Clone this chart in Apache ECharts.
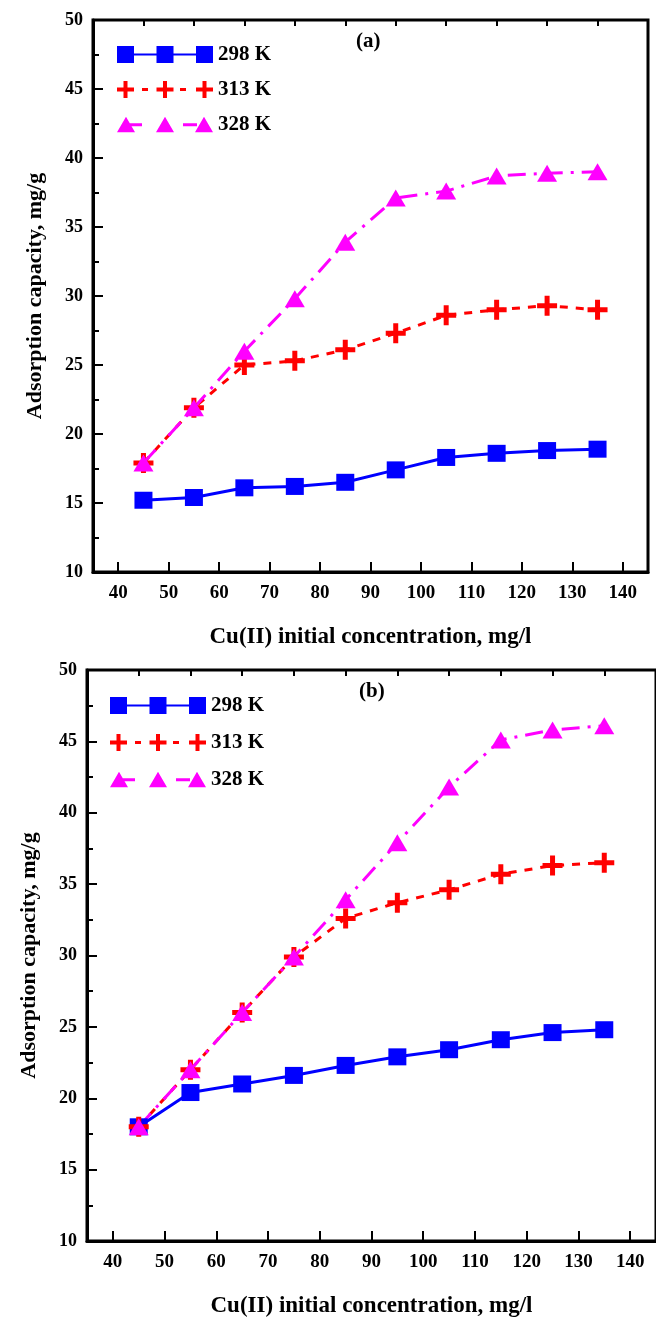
<!DOCTYPE html>
<html>
<head>
<meta charset="utf-8">
<script src="https://cdn.jsdelivr.net/npm/echarts@6/dist/echarts.min.js"></script>
<style>
html, body { margin: 0; padding: 0; background: #fff; }
#chart { width: 656px; height: 1319px; }
</style>
</head>
<body>
<div id="chart"></div>
<script>
// data
var concentration = [45, 55, 65, 75, 85, 95, 105, 115, 125, 135];
var xTickLabels = [40, 50, 60, 70, 80, 90, 100, 110, 120, 130, 140];
var xMinorTicks = [45, 55, 65, 75, 85, 95, 105, 115, 125, 135];
var seriesNames = ['298 K', '313 K', '328 K'];

// panel (a)
var a298 = [15.2, 15.4, 16.1, 16.2, 16.5, 17.4, 18.3, 18.6, 18.8, 18.9];
var a313 = [17.9, 21.9, 25.0, 25.3, 26.1, 27.3, 28.6, 29.0, 29.3, 29.0];
var a328 = [17.9, 21.9, 26.0, 29.8, 33.9, 37.1, 37.6, 38.7, 38.9, 39.0];

// panel (b)
var b298 = [18.0, 20.4, 21.0, 21.6, 22.3, 22.9, 23.4, 24.1, 24.6, 24.8];
var b313 = [18.0, 22.0, 26.0, 29.9, 32.6, 33.7, 34.6, 35.7, 36.3, 36.5];
var b328 = [18.0, 22.0, 26.0, 29.9, 33.9, 37.9, 41.8, 45.1, 45.8, 46.1];

var colors = ['#0000ff', '#ff0000', '#ff00ff'];
var font = 'Liberation Serif';

function pairs(ys) {
    return concentration.map(function (x, i) { return [x, ys[i]]; });
}

var plusPath = 'path://M7.5,0h5v7.5h7.5v5h-7.5v7.5h-5v-7.5h-7.5v-5h7.5z';

// legend icons: line with three markers, 96 x 17
var legendIcons = [
    'path://M0,0h17v17h-17z M17,7.5h23v2h-23z M39.5,0h17v17h-17z M56.5,7.5h23v2h-23z M79,0h17v17h-17z',
    'path://M6.5,0h4v6.5h6.5v4h-6.5v6.5h-4v-6.5h-6.5v-4h6.5z M25,7h6v3h-6z M46,0h4v6.5h6.5v4h-6.5v6.5h-4v-6.5h-6.5v-4h6.5z M63,7h6v3h-6z M85.5,0h4v6.5h6.5v4h-6.5v6.5h-4v-6.5h-6.5v-4h6.5z',
    'path://M0,16.5L9,1L18,16.5z M12,7.5h13v3h-13z M39,16.5L48,1L57,16.5z M66,7.5h14v3h-14z M78,16.5L87,1L96,16.5z'
];

function makeSeries(vals, xi, yi) {
    return [
        {
            name: seriesNames[0], type: 'line', xAxisIndex: xi, yAxisIndex: yi,
            symbol: 'rect', symbolSize: [18, 17],
            itemStyle: { color: colors[0] },
            lineStyle: { color: colors[0], width: 3 },
            data: pairs(vals[0])
        },
        {
            name: seriesNames[1], type: 'line', xAxisIndex: xi, yAxisIndex: yi,
            symbol: plusPath, symbolSize: [20, 20],
            itemStyle: { color: colors[1] },
            lineStyle: { color: colors[1], width: 3, type: [8, 8] },
            data: pairs(vals[1])
        },
        {
            name: seriesNames[2], type: 'line', xAxisIndex: xi, yAxisIndex: yi,
            symbol: 'triangle', symbolSize: [20, 17],
            itemStyle: { color: colors[2] },
            lineStyle: { color: colors[2], width: 3, type: [18, 8, 3, 8] },
            data: pairs(vals[2])
        }
    ];
}

function mainX(grid) {
    return {
        type: 'value', gridIndex: grid, min: 35, max: 145,
        name: 'Cu(II) initial concentration, mg/l',
        nameLocation: 'middle', nameGap: 54,
        nameTextStyle: { fontFamily: font, fontWeight: 'bold', fontSize: 23, color: '#000' },
        axisLine: { onZero: false, lineStyle: { color: '#000', width: 3 } },
        axisTick: { inside: true, length: 10, lineStyle: { color: '#000', width: 2 }, customValues: xTickLabels },
        axisLabel: { customValues: xTickLabels, margin: 12, fontFamily: font, fontWeight: 'bold', fontSize: 19, color: '#000' },
        splitLine: { show: false }
    };
}

function minorX(grid) {
    return {
        type: 'value', gridIndex: grid, min: 35, max: 145,
        axisLine: { show: false },
        axisTick: { inside: true, length: 6, lineStyle: { color: '#000', width: 2 }, customValues: xMinorTicks },
        axisLabel: { show: false },
        splitLine: { show: false }
    };
}

function mainY(grid) {
    return {
        type: 'value', gridIndex: grid, min: 10, max: 50, interval: 5,
        name: 'Adsorption capacity, mg/g',
        nameLocation: 'middle', nameGap: 47,
        nameTextStyle: { fontFamily: font, fontWeight: 'bold', fontSize: 22, color: '#000' },
        axisLine: { onZero: false, lineStyle: { color: '#000', width: 3 } },
        axisTick: { inside: true, length: 10, lineStyle: { color: '#000', width: 2 } },
        minorTick: { show: true, splitNumber: 2, length: 6, lineStyle: { color: '#000', width: 2 } },
        axisLabel: { margin: 10, fontFamily: font, fontWeight: 'bold', fontSize: 18, color: '#000' },
        splitLine: { show: false }
    };
}

function makeLegend(left, top, gap) {
    return {
        left: left, top: top, orient: 'vertical', padding: 0,
        itemWidth: 96, itemHeight: 17, itemGap: gap,
        itemStyle: { borderWidth: 0 },
        textStyle: { fontFamily: font, fontWeight: 'bold', fontSize: 21, color: '#000' },
        data: seriesNames.map(function (n, i) {
            return { name: n, icon: legendIcons[i] };
        })
    };
}

var option = {
    animation: false,
    backgroundColor: '#fff',
    grid: [
        { left: 93, top: 20, width: 555, height: 552, show: true, borderColor: '#000', borderWidth: 3 },
        { left: 87, top: 670, width: 571, height: 572, show: true, borderColor: '#000', borderWidth: 3 }
    ],
    xAxis: [mainX(0), minorX(0), mainX(1), minorX(1)],
    yAxis: [mainY(0), mainY(1)],
    legend: [makeLegend(117, 44, 14), makeLegend(110, 695, 16)],
    graphic: [
        { type: 'text', left: 356, top: 31, style: { text: '(a)', fontFamily: font, fontWeight: 'bold', fontSize: 21, fill: '#000' } },
        { type: 'text', left: 359, top: 681, style: { text: '(b)', fontFamily: font, fontWeight: 'bold', fontSize: 21, fill: '#000' } }
    ],
    series: makeSeries([a298, a313, a328], 0, 0).concat(makeSeries([b298, b313, b328], 2, 1))
};

var chart = echarts.init(document.getElementById('chart'));
chart.setOption(option);
</script>
</body>
</html>
